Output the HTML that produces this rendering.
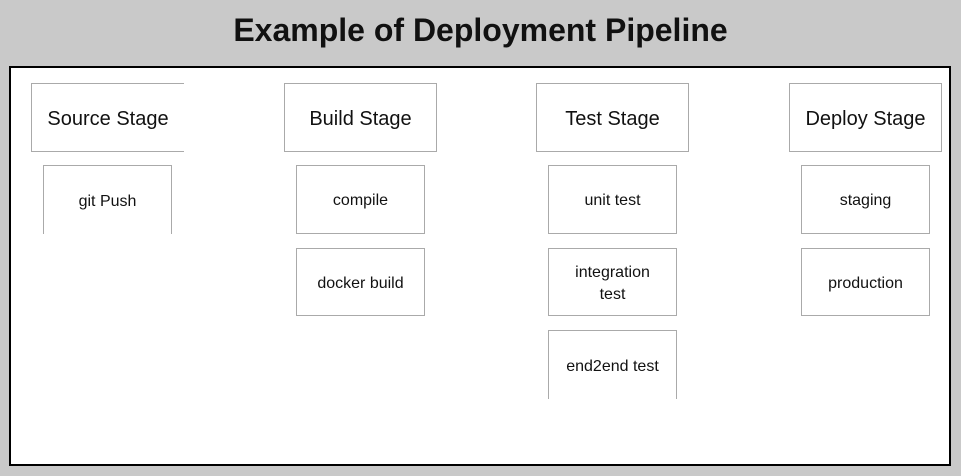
<!DOCTYPE html>
<html><head><style>
body{margin:0;width:961px;height:476px;background:#c9c9c9;position:relative;overflow:hidden;font-family:"Liberation Sans",sans-serif}
.t{position:absolute;left:0;width:961px;top:12px;text-align:center;font-weight:bold;font-size:32px;color:#111}
.p{position:absolute;left:9px;top:66px;width:938px;height:396px;background:#fff;border:2.5px solid #000}
.b{position:absolute;box-sizing:border-box;border:1px solid #aaa;display:flex;align-items:center;justify-content:center;text-align:center;color:#111;background:#fff;padding-top:3px}
.s{height:69px;width:153px;top:83px;font-size:20px}
.c{width:129px;font-size:16px;line-height:22px}
</style></head><body>
<div class="t">Example of Deployment Pipeline</div>
<div class="p"></div>
<div class="b s" style="left:31px;border-right:none">Source Stage</div>
<div class="b s" style="left:284px">Build Stage</div>
<div class="b s" style="left:536px">Test Stage</div>
<div class="b s" style="left:789px">Deploy Stage</div>
<div class="b c" style="left:43px;top:165px;height:69px;border-bottom:none">git Push</div>
<div class="b c" style="left:296px;top:165px;height:69px">compile</div>
<div class="b c" style="left:296px;top:248px;height:68px">docker build</div>
<div class="b c" style="left:548px;top:165px;height:69px">unit test</div>
<div class="b c" style="left:548px;top:248px;height:68px">integration<br>test</div>
<div class="b c" style="left:548px;top:330px;height:69px;border-bottom:none">end2end test</div>
<div class="b c" style="left:801px;top:165px;height:69px">staging</div>
<div class="b c" style="left:801px;top:248px;height:68px">production</div>
</body></html>
